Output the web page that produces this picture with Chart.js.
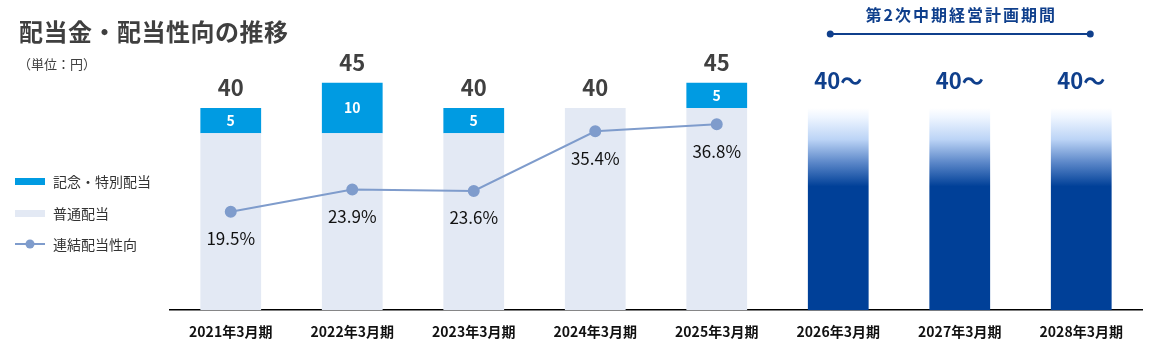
<!DOCTYPE html>
<html lang="ja">
<head>
<meta charset="utf-8">
<script src="https://cdn.jsdelivr.net/npm/chart.js@4"></script>
<style>
  body { margin: 0; background: #fff; font-family: "Noto Sans CJK JP", "Noto Sans", sans-serif; }
  #wrap { position: relative; width: 1155px; height: 353px; }
  #title { position: absolute; left: 19px; top: 13px; font-size: 24px; font-weight: bold; color: #3f3f3f; letter-spacing: 0.5px; }
  #unit { position: absolute; left: 18px; top: 54px; font-size: 13px; color: #404040; }
  .lg { position: absolute; left: 15px; font-size: 14px; color: #333; display: flex; align-items: center; }
  .lg .sw { width: 30px; margin-right: 8px; }
</style>
</head>
<body>
<div id="wrap">
  <canvas id="myChart"></canvas>
  <div id="title">配当金・配当性向の推移</div>
  <div id="unit">（単位：円）</div>
  <div class="lg" style="top:171px"><span class="sw" style="height:7px;background:#009be2"></span>記念・特別配当</div>
  <div class="lg" style="top:203px"><span class="sw" style="height:7px;background:#e3e9f4"></span>普通配当</div>
  <div class="lg" style="top:234px"><svg class="sw" width="30" height="12"><line x1="0" y1="6" x2="30" y2="6" stroke="#7f9ccc" stroke-width="2"/><circle cx="15" cy="6" r="4.5" fill="#7f9ccc"/></svg>連結配当性向</div>
</div>
<script>
const labels = ['2021年3月期', '2022年3月期', '2023年3月期', '2024年3月期', '2025年3月期', '2026年3月期', '2027年3月期', '2028年3月期'];
const ordinary = [35, 35, 35, 40, 40, null, null, null];
const special = [5, 10, 5, 0, 5, null, null, null];
const forecast = [null, null, null, null, null, 40, 40, 40];
const forecastLabel = '40～';
const payoutRatio = [19.5, 23.9, 23.6, 35.4, 36.8, null, null, null];
const planTitle = '第2次中期経営計画期間';

const navy = '#0f3f8c';
const ctx = document.getElementById('myChart');

function forecastGradient(context) {
    const chart = context.chart;
    const y = chart.scales.y;
    if (!chart.chartArea) return '#004098';
    const g = chart.ctx.createLinearGradient(0, y.getPixelForValue(40), 0, y.getPixelForValue(24.5));
    g.addColorStop(0, '#ffffff');
    g.addColorStop(0.12, '#eef5ff');
    g.addColorStop(0.4, '#bcd4f6');
    g.addColorStop(0.7, '#5a86c8');
    g.addColorStop(1, '#004098');
    return g;
}

const labelPlugin = {
    id: 'labelPlugin',
    afterDatasetsDraw(chart) {
        const c = chart.ctx;
        const x = chart.scales.x;
        const y = chart.scales.y;
        c.save();
        c.textAlign = 'center';
        c.textBaseline = 'middle';
        labels.forEach((l, i) => {
            const cx = x.getPixelForValue(i);
            if (ordinary[i] != null) {
                const total = ordinary[i] + special[i];
                c.font = 'bold 22px "Noto Sans CJK JP"';
                c.fillStyle = '#404040';
                c.fillText(String(total), cx, y.getPixelForValue(total) - 20);
                if (special[i] > 0) {
                    c.font = 'bold 14px "Noto Sans CJK JP"';
                    c.fillStyle = '#ffffff';
                    c.fillText(String(special[i]), cx, y.getPixelForValue(ordinary[i] + special[i] / 2));
                }
            }
            if (forecast[i] != null) {
                c.font = 'bold 22px "Noto Sans CJK JP"';
                c.fillStyle = navy;
                c.fillText(forecastLabel, cx, y.getPixelForValue(forecast[i]) - 27);
            }
            if (payoutRatio[i] != null) {
                c.font = '17px "Noto Sans CJK JP"';
                c.fillStyle = '#111111';
                c.fillText(payoutRatio[i].toFixed(1) + '%', cx, y.getPixelForValue(payoutRatio[i]) + 27);
            }
        });
        // plan period bracket
        const x1 = x.getPixelForValue(5) - 8;
        const x2 = x.getPixelForValue(7) + 9;
        c.strokeStyle = navy;
        c.fillStyle = navy;
        c.lineWidth = 2;
        c.beginPath();
        c.moveTo(x1, 34);
        c.lineTo(x2, 34);
        c.stroke();
        [x1, x2].forEach(px => {
            c.beginPath();
            c.arc(px, 34, 3.5, 0, Math.PI * 2);
            c.fill();
        });
        c.font = 'bold 16px "Noto Sans CJK JP"';
        c.letterSpacing = '2px';
        c.fillText(planTitle, (x1 + x2) / 2 + 1, 15);
        c.restore();
    }
};

new Chart(ctx, {
    type: 'bar',
    data: {
        labels: labels,
        datasets: [
            {
                type: 'line',
                label: '連結配当性向',
                data: payoutRatio,
                borderColor: '#7f9ccc',
                backgroundColor: '#7f9ccc',
                borderWidth: 2,
                pointRadius: 5,
                pointHoverRadius: 5,
                order: 0
            },
            {
                label: '普通配当',
                data: ordinary,
                backgroundColor: '#e3e9f4',
                stack: 'a',
                order: 1
            },
            {
                label: '記念・特別配当',
                data: special,
                backgroundColor: '#009be2',
                stack: 'a',
                order: 1
            },
            {
                label: '予想',
                data: forecast,
                backgroundColor: forecastGradient,
                stack: 'a',
                order: 1
            }
        ]
    },
    options: {
        responsive: true,
        maintainAspectRatio: false,
        animation: false,
        layout: { padding: { left: 170, right: 13, top: 5.5, bottom: 0 } },
        datasets: { bar: { barPercentage: 0.5, categoryPercentage: 1 } },
        plugins: { legend: { display: false }, tooltip: { enabled: false } },
        scales: {
            x: {
                stacked: true,
                grid: { display: false, drawTicks: false },
                border: { color: '#000', width: 1.5 },
                ticks: { color: '#111', padding: 13, font: { size: 14, weight: 'bold', family: '"Noto Sans CJK JP"' } }
            },
            y: {
                stacked: true,
                display: false,
                min: 0,
                max: 60
            }
        }
    },
    plugins: [labelPlugin]
});
</script>
</body>
</html>
